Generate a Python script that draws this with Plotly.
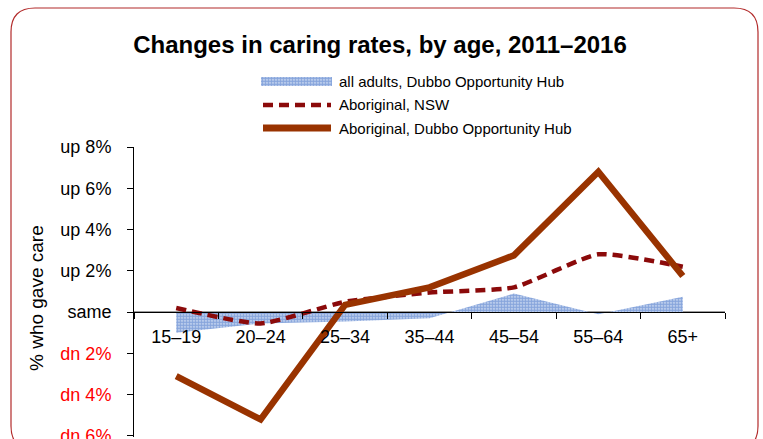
import plotly.graph_objects as go

# Age groups and change in share of people who gave unpaid care (percentage points)
ages = ["15–19", "20–24", "25–34", "35–44", "45–54", "55–64", "65+"]
all_adults_dubbo = [-1.0, -0.55, -0.45, -0.3, 0.9, -0.1, 0.75]
aboriginal_nsw = [0.2, -0.55, 0.5, 0.95, 1.2, 2.8, 2.2]
aboriginal_dubbo = [-3.1, -5.2, 0.35, 1.2, 2.75, 6.8, 1.75]

y_ticks = [8, 6, 4, 2, 0, -2, -4, -6]
y_tick_labels = ["up 8%", "up 6%", "up 4%", "up 2%", "same", "dn 2%", "dn 4%", "dn 6%"]

series_names = ["all adults, Dubbo Opportunity Hub", "Aboriginal, NSW",
                "Aboriginal, Dubbo Opportunity Hub"]

FONT = "Liberation Sans, Arial, sans-serif"
BLUE = "#3566C2"
NSW_RED = "#8B0A0A"
DUBBO_BROWN = "#993300"
FRAME = "#B22A2A"

W, H = 763, 439
L, R, T, B = 134, 38, 70, 2
PW, PH = W - L - R, H - T - B
Y_MIN, Y_MAX = -6.05, 8


def px(x):
    return (x - L) / PW


def py(y):
    return (H - B - y) / PH


plot_top = py(147)  # top of the value axis within the paper
zero_pos = plot_top * (0 - Y_MIN) / (Y_MAX - Y_MIN)

fig = go.Figure()

pattern = dict(shape=".", fgcolor=BLUE, bgcolor="#D9E4F6", size=3, solidity=0.75)

fig.add_trace(go.Scatter(
    x=ages, y=all_adults_dubbo, name=series_names[0], mode="lines",
    line=dict(width=0, color=BLUE), fill="tozeroy", fillpattern=pattern,
    showlegend=False))
fig.add_trace(go.Scatter(
    x=ages, y=aboriginal_nsw, name=series_names[1], mode="lines",
    line=dict(color=NSW_RED, width=4.5, dash="10px,6px", shape="spline", smoothing=0.5),
    showlegend=False))
fig.add_trace(go.Scatter(
    x=ages, y=aboriginal_dubbo, name=series_names[2], mode="lines",
    line=dict(color=DUBBO_BROWN, width=6.5), showlegend=False))

# legend swatch for the patterned area, drawn on its own small axes
fig.add_trace(go.Scatter(
    x=[0, 1, 1, 0, 0], y=[0, 0, 1, 1, 0], mode="lines", fill="toself",
    line=dict(width=0), fillpattern=pattern,
    xaxis="x2", yaxis="y2", showlegend=False, hoverinfo="skip"))

ticktext = [t if not t.startswith("dn") else f"<span style='color:#FF0000'>{t}</span>"
            for t in y_tick_labels]

fig.update_layout(
    width=W, height=H,
    margin=dict(l=L, r=R, t=T, b=B, autoexpand=False),
    paper_bgcolor="white", plot_bgcolor="white",
    font=dict(family=FONT, color="black", size=18),
    title=dict(text="<b>Changes in caring rates, by age, 2011–2016</b>",
               x=380 / W, xanchor="center", y=1 - 45 / H, yanchor="middle",
               font=dict(family=FONT, size=24, color="black")),
    xaxis=dict(type="category", range=[-0.5, 6.5], anchor="free", position=zero_pos,
               showline=True, linecolor="black", linewidth=1, automargin=False,
               ticks="outside", tickson="boundaries", ticklen=6, tickcolor="black",
               showgrid=False, zeroline=False, ticklabelstandoff=8,
               tickfont=dict(size=18, family=FONT, color="black")),
    yaxis=dict(range=[Y_MIN, Y_MAX], domain=[0, plot_top],
               tickvals=y_ticks, ticktext=ticktext, ticklabeloverflow="allow",
               showline=True, linecolor="black", linewidth=1, automargin=False,
               ticks="outside", ticklen=6, tickcolor="black",
               showgrid=False, zeroline=False, ticklabelstandoff=12,
               tickfont=dict(size=18, family=FONT, color="black")),
    xaxis2=dict(domain=[px(261), px(332)], range=[0, 1], visible=False,
                anchor="y2", fixedrange=True),
    yaxis2=dict(domain=[py(86), py(77)], range=[0, 1], visible=False,
                anchor="x2", fixedrange=True),
    hovermode=False,
)

# zero line across the chart
fig.add_shape(type="line", xref="paper", yref="y", x0=0, x1=1, y0=0, y1=0,
              line=dict(color="black", width=1), layer="below")

# legend line symbols
fig.add_shape(type="line", xref="paper", yref="paper", x0=px(263), x1=px(331),
              y0=py(105), y1=py(105), line=dict(color=NSW_RED, width=4.5, dash="10px,6px"))
fig.add_shape(type="line", xref="paper", yref="paper", x0=px(263), x1=px(331),
              y0=py(128), y1=py(128), line=dict(color=DUBBO_BROWN, width=7))

for name, ypix in zip(series_names, [81.5, 105, 128]):
    fig.add_annotation(text=name, xref="paper", yref="paper", x=px(337), y=py(ypix),
                       xanchor="left", yanchor="middle", showarrow=False,
                       font=dict(family=FONT, size=15, color="black"))

# y-axis title
fig.add_annotation(text="% who gave care", xref="paper", yref="paper",
                   x=px(36), y=py(298), xanchor="center", yanchor="middle",
                   textangle=-90, showarrow=False,
                   font=dict(family=FONT, size=19, color="black"))

# rounded frame around the chart
x0, x1, y0, y1, r = px(11), px(758), py(8), py(450), 24
rx, ry = r / PW, r / PH
frame_path = (f"M {x0 + rx},{y0} L {x1 - rx},{y0} Q {x1},{y0} {x1},{y0 - ry} "
              f"L {x1},{y1 + ry} Q {x1},{y1} {x1 - rx},{y1} "
              f"L {x0 + rx},{y1} Q {x0},{y1} {x0},{y1 + ry} "
              f"L {x0},{y0 - ry} Q {x0},{y0} {x0 + rx},{y0} Z")
fig.add_shape(type="path", xref="paper", yref="paper", path=frame_path,
              line=dict(color=FRAME, width=1.2), fillcolor="rgba(0,0,0,0)", layer="below")

fig.write_html("out.html")
